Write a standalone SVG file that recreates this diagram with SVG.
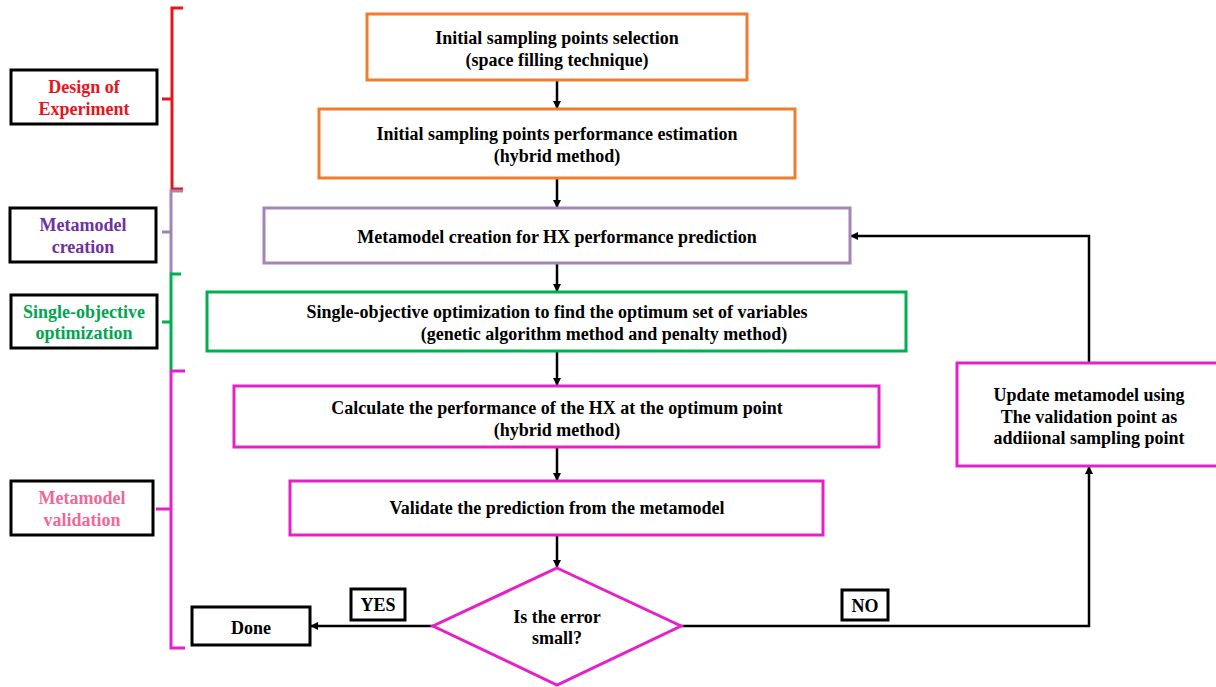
<svg xmlns="http://www.w3.org/2000/svg" width="1216" height="687" viewBox="0 0 1216 687">
<defs>
<marker id="ah" markerWidth="8" markerHeight="8" refX="7" refY="4" orient="auto" markerUnits="userSpaceOnUse">
<path d="M0,0 L8,4 L0,8 z" fill="#000"/>
</marker>
<style>
.box{fill:#fff;stroke-width:3}
.lbl{fill:#fff;stroke:#000;stroke-width:3}
.or{stroke:#ed7d31}.pu{stroke:#a385b6}.gr{stroke:#00b050}.mg{stroke:#e620c8}
.con{fill:none;stroke:#000;stroke-width:2.5}
.br{fill:none;stroke-width:3}
</style>
</defs>
<rect width="1216" height="687" fill="#fff"/>

<g id="brackets">
<path class="br" stroke="#e8141b" d="M183,8 H172 V189 H183 M162,99 H172"/>
<path class="br" stroke="#a385b6" d="M183,191 H171 V273 M162,232 H171"/>
<path class="br" stroke="#00b050" d="M181,274 H171 V370 M162,322 H171"/>
<path class="br" stroke="#e620c8" d="M185,371 H171 V648 H185 M156,509 H171"/>
</g>

<g font-family="'Times New Roman', 'Liberation Serif', serif" font-weight="bold" font-size="18" text-anchor="middle">
<g id="lbl-doe"><rect class="lbl" x="11" y="70" width="146" height="54"/><text x="84" y="93" fill="#e8141b">Design of</text><text x="84" y="115" fill="#e8141b">Experiment</text></g>
<g id="lbl-mc"><rect class="lbl" x="10" y="208" width="146" height="54"/><text x="83" y="231" fill="#7030a0">Metamodel</text><text x="83" y="253" fill="#7030a0">creation</text></g>
<g id="lbl-so"><rect class="lbl" x="11" y="295" width="146" height="53"/><text x="84" y="318" fill="#00a550">Single-objective</text><text x="84" y="339" fill="#00a550">optimization</text></g>
<g id="lbl-mv"><rect class="lbl" x="11" y="481" width="142" height="54"/><text x="82" y="504" fill="#f0689a">Metamodel</text><text x="82" y="526" fill="#f0689a">validation</text></g>

<g id="connectors">
<line class="con" x1="557" y1="80" x2="557" y2="108" marker-end="url(#ah)"/>
<line class="con" x1="557" y1="178" x2="557" y2="207" marker-end="url(#ah)"/>
<line class="con" x1="557" y1="263" x2="557" y2="291" marker-end="url(#ah)"/>
<line class="con" x1="557" y1="351" x2="557" y2="385" marker-end="url(#ah)"/>
<line class="con" x1="557" y1="447" x2="557" y2="480" marker-end="url(#ah)"/>
<line class="con" x1="557" y1="535" x2="557" y2="567" marker-end="url(#ah)"/>
<line class="con" x1="433" y1="626" x2="311" y2="626" marker-end="url(#ah)"/>
<polyline class="con" points="681,626 1089,626 1089,467" marker-end="url(#ah)"/>
<polyline class="con" points="1089,363 1089,236 851,236" marker-end="url(#ah)"/>
</g>

<g id="n1"><rect class="box or" x="367" y="14" width="380" height="66"/><text x="557" y="44">Initial sampling points selection</text><text x="557" y="66">(space filling technique)</text></g>
<g id="n2"><rect class="box or" x="319" y="109" width="476" height="69"/><text x="557" y="140">Initial sampling points performance estimation</text><text x="557" y="162">(hybrid method)</text></g>
<g id="n3"><rect class="box pu" x="264" y="208" width="586" height="55"/><text x="557" y="243">Metamodel creation for HX performance prediction</text></g>
<g id="n4"><rect class="box gr" x="207" y="292" width="699" height="59"/><text x="557" y="318">Single-objective optimization to find the optimum set of variables</text><text x="604" y="340">(genetic algorithm method and penalty method)</text></g>
<g id="n5"><rect class="box mg" x="234" y="386" width="645" height="61"/><text x="557" y="414">Calculate the performance of the HX at the optimum point</text><text x="557" y="436">(hybrid method)</text></g>
<g id="n6"><rect class="box mg" x="290" y="481" width="533" height="54"/><text x="557" y="514">Validate the prediction from the metamodel</text></g>
<g id="n7"><polygon class="box mg" points="557,568 681,626 557,685 433,626"/><text x="557" y="623">Is the error</text><text x="557" y="644">small?</text></g>
<g id="n8"><rect class="lbl" x="192" y="607" width="118" height="38"/><text x="251" y="634">Done</text></g>
<g id="yes"><rect class="lbl" x="351" y="589" width="54" height="31"/><text x="378" y="611">YES</text></g>
<g id="no"><rect class="lbl" x="842" y="590" width="46" height="30"/><text x="865" y="612">NO</text></g>
<g id="n9"><rect class="box mg" x="957" y="363" width="262" height="103"/><text x="1089" y="401">Update metamodel using</text><text x="1089" y="423">The validation point as</text><text x="1089" y="444">addiional sampling point</text></g>
</g>
</svg>
